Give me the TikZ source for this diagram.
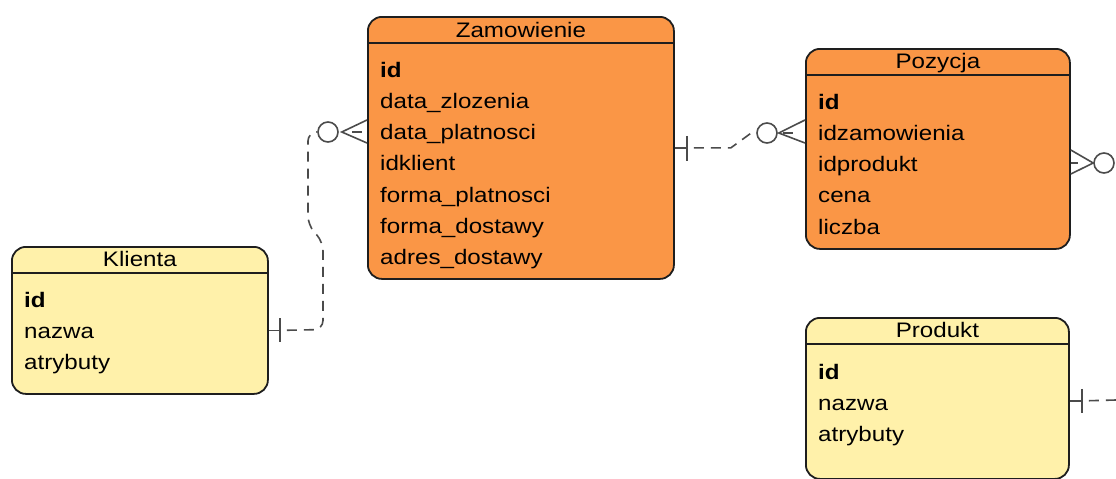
\documentclass[tikz,border=0pt]{standalone}
\usepackage{fontspec}
\setmainfont{Liberation Sans}[FakeStretch=1.15]
\definecolor{entOrange}{RGB}{250,150,70}
\definecolor{entYellow}{RGB}{255,241,170}
\definecolor{edgec}{RGB}{30,30,30}
\definecolor{relc}{RGB}{75,75,75}
\begin{document}
\begin{tikzpicture}[x=1pt,y=-1pt,
  entity/.style={draw=edgec, line width=1.8pt, rounded corners=14pt,
                 anchor=north west, inner sep=0pt},
  hdr/.style={draw=edgec, line width=1.8pt},
  etitle/.style={font=\fontsize{21}{25}\selectfont, inner sep=0pt, anchor=base},
  field/.style={font=\fontsize{21}{25}\selectfont, inner sep=0pt, anchor=base west},
  rel/.style={draw=relc, line width=1.6pt},
  reldash/.style={rel, dash pattern=on 10pt off 7pt, dash phase=10pt},
  ring/.style={circle, draw=relc, line width=1.6pt, minimum size=20pt, inner sep=0pt}]
\useasboundingbox (0,0) rectangle (1116,479);

% ---------- entities ----------
\node[entity, fill=entYellow, minimum width=256pt, minimum height=147pt] (kli) at (11,246) {};
\node[entity, fill=entOrange, minimum width=306pt, minimum height=262pt] (zam) at (367,16) {};
\node[entity, fill=entOrange, minimum width=264pt, minimum height=200pt] (poz) at (805,48) {};
\node[entity, fill=entYellow, minimum width=263pt, minimum height=161pt] (prod) at (805,317) {};

% header separators
\foreach \e in {kli,zam,poz,prod}
  \draw[hdr] ([yshift=-27pt]\e.north west) -- ([yshift=-27pt]\e.north east);

% titles
\node[etitle] (kli-t)  at ([yshift=-20.5pt]kli.north)  {Klienta};
\node[etitle] (zam-t)  at ([yshift=-21pt]zam.north)    {Zamowienie};
\node[etitle] (poz-t)  at ([yshift=-20.5pt]poz.north)  {Pozycja};
\node[etitle] (prod-t) at ([yshift=-20.5pt]prod.north) {Produkt};

% attributes
\node[field] (zam-0) at ([xshift=13pt,yshift=-61pt]zam.north west) {\textbf{id}};
\foreach \t [count=\i, evaluate=\i as \dy using 61+31.3*\i] in
  {data\_zlozenia, data\_platnosci, idklient, forma\_platnosci, forma\_dostawy, adres\_dostawy}
  \node[field] (zam-\i) at ([xshift=13pt,yshift=-\dy pt]zam.north west) {\t};

\node[field] (poz-0) at ([xshift=13pt,yshift=-61pt]poz.north west) {\textbf{id}};
\foreach \t [count=\i, evaluate=\i as \dy using 61+31.3*\i] in
  {idzamowienia, idprodukt, cena, liczba}
  \node[field] (poz-\i) at ([xshift=13pt,yshift=-\dy pt]poz.north west) {\t};

\node[field] (kli-0) at ([xshift=13pt,yshift=-61pt]kli.north west) {\textbf{id}};
\foreach \t [count=\i, evaluate=\i as \dy using 61+31.3*\i] in {nazwa, atrybuty}
  \node[field] (kli-\i) at ([xshift=13pt,yshift=-\dy pt]kli.north west) {\t};

\node[field] (prod-0) at ([xshift=13pt,yshift=-62pt]prod.north west) {\textbf{id}};
\foreach \t [count=\i, evaluate=\i as \dy using 62+31.3*\i] in {nazwa, atrybuty}
  \node[field] (prod-\i) at ([xshift=13pt,yshift=-\dy pt]prod.north west) {\t};

% ---------- Klienta -- Zamowienie ----------
\coordinate (kz-a) at ([yshift=-10pt]kli.east);
\coordinate (kz-b) at ([xshift=11pt]kz-a);
\node[ring] (kz-o) at (328,132) {};
\coordinate (kz-e) at (zam.west |- kz-o);
\draw[rel] (kz-a) -- (kz-b);
\draw[rel] ([yshift=12pt]kz-b) -- ([yshift=-12pt]kz-b);
\draw[reldash, rounded corners=9pt] (kz-b) -- (323,329.5) -- (323,242)
      -- (308,225) -- (308,132) -- (kz-o.west);
\draw[rel] ([yshift=12pt]kz-e) -- ([xshift=3pt]kz-o.east) -- ([yshift=-11pt]kz-e);
\draw[rel] ([xshift=-15pt]kz-e) -- ([xshift=-5pt]kz-e);

% ---------- Zamowienie -- Pozycja ----------
\coordinate (zp-a) at (zam.east);
\coordinate (zp-b) at ([xshift=12pt]zp-a);
\node[ring] (zp-o) at (767,133) {};
\coordinate (zp-e) at (poz.west |- zp-o);
\draw[rel] (zp-a) -- (zp-b);
\draw[rel] ([yshift=12pt]zp-b) -- ([yshift=-13pt]zp-b);
\draw[reldash] (zp-b) -- ++(44,0) -- ([xshift=-5pt]zp-o.west) -- (zp-o.west);
\draw[rel] ([yshift=13pt]zp-e) -- ([xshift=1pt]zp-o.east) -- ([yshift=-10pt]zp-e);
\draw[rel] ([xshift=-22pt]zp-e) -- ([xshift=-12pt]zp-e);

% ---------- Pozycja -- (right) ----------
\node[ring] (pr-o) at (1104,163) {};
\coordinate (pr-e) at (poz.east |- pr-o);
\draw[rel] ([yshift=13pt]pr-e) -- (pr-o.west) -- ([yshift=-11pt]pr-e);
\draw[rel] (pr-e) -- ([xshift=7pt]pr-e);

% ---------- Produkt -- (right) ----------
\coordinate (pd-a) at ([yshift=-2.5pt]prod.east);
\coordinate (pd-b) at ([xshift=12pt]pd-a);
\coordinate (pd-end) at (1116,400);
\draw[rel] (pd-a) -- (pd-b);
\draw[rel] ([yshift=12pt]pd-b) -- ([yshift=-12pt]pd-b);
\draw[reldash] (pd-b) -- (pd-end);
\end{tikzpicture}
\end{document}
